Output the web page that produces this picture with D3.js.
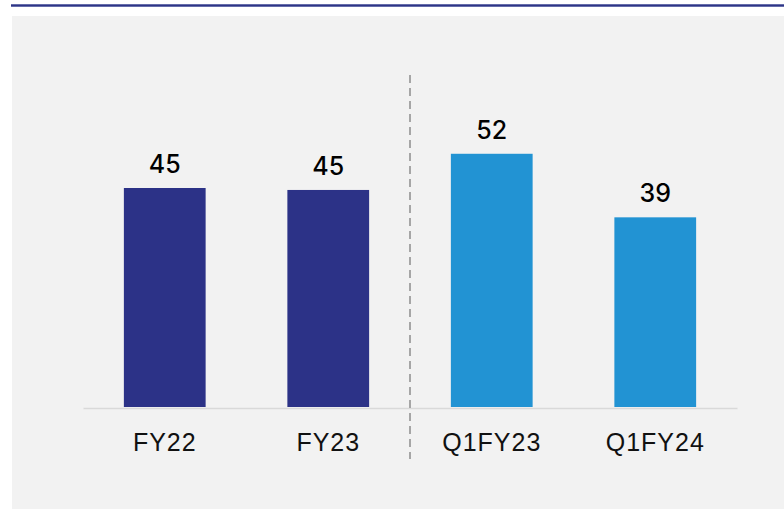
<!DOCTYPE html>
<html><head><meta charset="utf-8">
<script src="https://cdn.jsdelivr.net/npm/d3@7"></script>
<style>html,body{margin:0;padding:0;background:#fff;}svg{display:block;}</style>
</head><body>
<svg id="c" width="784" height="510"></svg>
<script>
const categories = ["FY22", "FY23", "Q1FY23", "Q1FY24"];
const values = [45, 44.6, 52, 39];
const valueLabels = ["45", "45", "52", "39"];
const groups = ["annual", "annual", "quarter", "quarter"];
const colors = {annual: "#2C3287", quarter: "#2293D3"};

const svg = d3.select("#c");
// top rule
svg.append("rect").attr("x", 11).attr("y", 4).attr("width", 773).attr("height", 3).attr("fill", "#7f86bb");
svg.append("rect").attr("x", 11).attr("y", 4.7).attr("width", 773).attr("height", 1.6).attr("fill", "#2E3586");
// panel
svg.append("rect").attr("x", 12).attr("y", 16).attr("width", 772).attr("height", 493).attr("fill", "#F2F2F2");

const x = d3.scaleBand().domain(categories).range([83, 737]).paddingInner(0.5).paddingOuter(0.25);
const y = d3.scaleLinear().domain([0, 45]).range([408, 188]);

// bars
svg.selectAll("rect.bar").data(categories).join("rect").attr("class", "bar")
  .attr("x", d => x(d)).attr("width", x.bandwidth())
  .attr("y", (d, i) => y(values[i])).attr("height", (d, i) => y(0) - y(values[i]) - 1)
  .attr("fill", (d, i) => colors[groups[i]]);

// baseline axis
const axis = d3.axisBottom(x).tickSize(0).tickPadding(20);
const g = svg.append("g").attr("transform", `translate(0,${y(0)})`).call(axis);
g.select(".domain").attr("stroke", "#D9D9D9").attr("stroke-width", 1.6);
g.selectAll(".tick text").attr("font-family", "Liberation Sans, Arial, sans-serif")
  .attr("font-size", 25).attr("fill", "#111").attr("letter-spacing", 1).attr("dy", "0.9em");

// value labels
svg.selectAll("text.val").data(categories).join("text").attr("class", "val")
  .attr("x", d => x(d) + x.bandwidth() / 2).attr("y", (d, i) => y(values[i]) - 15)
  .attr("text-anchor", "middle").attr("font-family", "Inter, sans-serif").attr("font-weight", 500)
  .attr("font-size", 25).attr("fill", "#000").text((d, i) => valueLabels[i]);

// divider
const divX = (x("FY23") + x.bandwidth() + x("Q1FY23")) / 2;
svg.append("line").attr("x1", divX).attr("x2", divX).attr("y1", 75).attr("y2", 459)
  .attr("stroke", "#A6A6A6").attr("stroke-width", 2).attr("stroke-dasharray", "8,5");
</script>
</body></html>
